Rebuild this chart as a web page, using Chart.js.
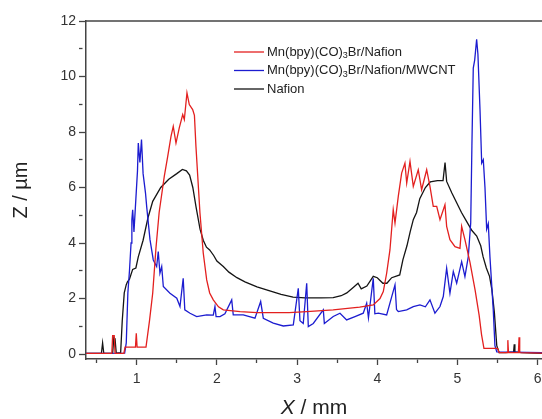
<!DOCTYPE html>
<html lang="en">
  <head>
    <title>Z profile</title>
    <meta charset="utf-8" />
    <script src="https://cdn.jsdelivr.net/npm/chart.js@4.4.0/dist/chart.umd.min.js"></script>
    <style>
      html, body { margin: 0; padding: 0; background: #fff; }
    </style>
  </head>
  <body>
    <canvas id="profile" width="542" height="419"></canvas>
    <script>
      // series names (the 3 after (CO) is drawn as subscript)
      var seriesNames = ["Mn(bpy)(CO)3Br/Nafion", "Mn(bpy)(CO)3Br/Nafion/MWCNT", "Nafion"];
      var seriesColors = ["#e3201f", "#1c1cd0", "#141414"];

      // Mn(bpy)(CO)3Br/Nafion
      var redX = [0.37, 0.69, 0.70, 0.72, 0.73, 0.84, 0.855, 0.985, 0.995, 1.005, 1.116,
        1.16, 1.20, 1.24, 1.28, 1.344, 1.387, 1.428, 1.456, 1.49, 1.531, 1.574, 1.594, 1.627, 1.656, 1.698, 1.72, 1.739,
        1.789, 1.83, 1.873, 1.91, 1.955, 2.02, 2.08, 2.29, 2.5, 2.9, 3.12, 3.45, 3.78, 3.95, 4.034, 4.075,
        4.117, 4.158, 4.199, 4.221, 4.262, 4.304, 4.345, 4.367, 4.408, 4.449, 4.511, 4.553, 4.616, 4.657, 4.698,
        4.741, 4.782, 4.844, 4.865, 4.906, 4.969, 5.031, 5.052, 5.093, 5.156, 5.22, 5.27, 5.30, 5.33, 5.50, 5.52,
        5.62, 5.628, 5.636, 5.76, 5.768, 5.776, 6.06];
      var redY = [0.02, 0.02, 0.66, 0.66, 0.02, 0.02, 0.25, 0.25, 0.75, 0.25, 0.25,
        1.2, 2.2, 3.8, 5.1, 6.4, 7.12, 7.84, 8.2, 7.6, 8.15, 8.63, 8.45, 9.41, 8.99, 8.81, 8.6, 7.48,
        5.08, 3.64, 2.67, 2.2, 1.95, 1.7, 1.59, 1.53, 1.49, 1.49, 1.53, 1.59, 1.69, 1.77, 2.0, 2.25,
        2.91, 3.75, 5.2, 4.72, 5.68, 6.52, 6.88, 6.16, 6.94, 6.04, 6.64, 5.92, 6.64, 6.04, 5.32,
        5.32, 4.84, 5.38, 4.6, 4.12, 3.87, 3.81, 4.6, 4.12, 3.3, 2.3, 1.4, 0.7, 0.2, 0.2, 0.05,
        0.05, 0.5, 0.05, 0.05, 0.6, 0.05, 0.03];

      // Mn(bpy)(CO)3Br/Nafion/MWCNT
      var blueX = [0.37, 0.85, 0.87, 0.89, 0.91, 0.93, 0.94, 0.95, 0.966, 0.99, 1.01, 1.02, 1.04, 1.06, 1.08,
        1.11, 1.125, 1.166, 1.207, 1.249, 1.269, 1.29, 1.312, 1.332, 1.415, 1.50, 1.54, 1.58, 1.60, 1.665,
        1.748, 1.873, 1.955, 1.976, 1.99, 2.039, 2.10, 2.185, 2.204, 2.329, 2.475, 2.546, 2.579, 2.703, 2.828, 2.953, 3.015,
        3.036, 3.077, 3.12, 3.14, 3.202, 3.327, 3.34, 3.451, 3.535, 3.618, 3.722, 3.825, 3.868, 3.89, 3.95,
        3.97, 4.012, 4.117, 4.221, 4.24, 4.262, 4.367, 4.449, 4.532, 4.60, 4.657, 4.719, 4.782, 4.823, 4.865,
        4.906, 4.948, 4.99, 5.052, 5.093, 5.135, 5.165, 5.18, 5.197, 5.215, 5.239, 5.255, 5.281, 5.302, 5.322,
        5.343, 5.364, 5.384, 5.405, 5.446, 5.467, 5.49, 6.06];
      var blueY = [0.02, 0.03, 0.4, 2.2, 3.0, 4.0, 4.84, 5.2, 4.4, 5.6, 6.6, 7.6, 6.9, 7.73, 6.5,
        5.8, 5.3, 4.12, 3.39, 3.15, 3.69, 2.91, 3.15, 2.43, 2.19, 2.01, 1.71, 2.73, 1.59, 1.47,
        1.35, 1.41, 1.4, 1.71, 1.35, 1.35, 1.45, 1.95, 1.41, 1.41, 1.29, 1.89, 1.29, 1.11, 1.01, 1.05, 2.37,
        1.2, 1.1, 2.55, 0.99, 1.1, 1.59, 1.1, 1.35, 1.47, 1.23, 1.35, 1.47, 1.83, 1.3, 2.73,
        1.45, 1.47, 1.41, 2.49, 1.6, 1.53, 1.59, 1.71, 1.77, 1.7, 1.95, 1.47, 1.71, 2.07, 3.09,
        2.19, 2.97, 2.55, 3.33, 2.79, 3.51, 4.72, 7.5, 10.3, 10.6, 11.34, 10.8, 8.8, 6.88, 7.0,
        6.0, 4.5, 4.7, 3.5, 1.6, 0.3, 0.08, 0.05];

      // Nafion
      var blackX = [0.37, 0.56, 0.575, 0.59, 0.70, 0.715, 0.73, 0.745, 0.80, 0.82, 0.845, 0.87, 0.885, 0.91,
        0.95, 0.99, 1.02, 1.08, 1.14, 1.20, 1.30, 1.40, 1.50, 1.57, 1.62, 1.66, 1.70, 1.74, 1.79, 1.83,
        1.87, 1.91, 1.96, 2.00, 2.08, 2.15, 2.25, 2.35, 2.50, 2.65, 2.80, 2.95, 3.10, 3.30, 3.45, 3.55,
        3.62, 3.70, 3.76, 3.80, 3.87, 3.95, 4.00, 4.07, 4.12, 4.18, 4.28, 4.32, 4.37, 4.41, 4.45, 4.49,
        4.53, 4.60, 4.66, 4.75, 4.82, 4.845, 4.865, 4.93, 4.99, 5.05, 5.11, 5.18, 5.24, 5.29, 5.32, 5.36,
        5.40, 5.43, 5.46, 5.49, 5.52, 5.60, 5.70, 5.708, 5.716, 5.80, 6.06];
      var blackY = [0.02, 0.02, 0.4, 0.02, 0.02, 0.6, 0.55, 0.03, 0.05, 1.2, 2.2, 2.5, 2.6, 2.7,
        3.05, 3.1, 3.5, 4.1, 4.9, 5.5, 6.0, 6.3, 6.5, 6.65, 6.6, 6.45, 6.0, 5.3, 4.5, 4.1,
        3.85, 3.75, 3.55, 3.35, 3.15, 2.95, 2.75, 2.6, 2.42, 2.28, 2.15, 2.05, 2.02, 2.02, 2.03, 2.1,
        2.2, 2.4, 2.55, 2.35, 2.45, 2.8, 2.75, 2.55, 2.55, 2.75, 2.85, 3.4, 3.9, 4.4, 4.85, 5.1,
        5.6, 6.0, 6.2, 6.25, 6.25, 6.9, 6.22, 5.8, 5.45, 5.1, 4.8, 4.45, 4.25, 3.9, 3.5, 3.1,
        2.8, 2.3, 1.5, 0.3, 0.05, 0.05, 0.08, 0.35, 0.08, 0.05, 0.02];

      var xs = [redX, blueX, blackX];
      var ys = [redY, blueY, blackY];

      var font = "'Liberation Sans', Arial, sans-serif";

      // tick marks at half steps on x and odd values on y are drawn short
      function shortTick(isMajor) {
        return isMajor ? [] : [3.5, 40];
      }

      // legend inside the plot, with subscript 3
      var innerLegend = {
        id: "innerLegend",
        afterDraw: function (chart) {
          var ctx = chart.ctx;
          ctx.save();
          for (var i = 0; i < seriesNames.length; i++) {
            var y = 52 + i * 18.5;
            ctx.strokeStyle = seriesColors[i];
            ctx.lineWidth = 1.3;
            ctx.beginPath();
            ctx.moveTo(234, y);
            ctx.lineTo(264, y);
            ctx.stroke();

            ctx.fillStyle = "#222";
            ctx.textBaseline = "middle";
            ctx.font = "13px " + font;
            var x = 267;
            var name = seriesNames[i];
            var k = name.indexOf("(CO)3");
            if (k >= 0) {
              var a = name.slice(0, k + 4);
              var b = name.slice(k + 5);
              ctx.fillText(a, x, y);
              var w = ctx.measureText(a).width;
              ctx.font = "9px " + font;
              ctx.fillText("3", x + w, y + 4);
              var w3 = ctx.measureText("3").width;
              ctx.font = "13px " + font;
              ctx.fillText(b, x + w + w3, y);
            } else {
              ctx.fillText(name, x, y);
            }
          }
          ctx.restore();
        },
      };

      // top frame line and x axis title with italic X
      var frameAndTitle = {
        id: "frameAndTitle",
        afterDraw: function (chart) {
          var ctx = chart.ctx;
          var area = chart.chartArea;
          ctx.save();
          ctx.strokeStyle = "#444";
          ctx.lineWidth = 1.5;
          ctx.beginPath();
          ctx.moveTo(area.left, area.top);
          ctx.lineTo(area.right, area.top);
          ctx.stroke();

          ctx.fillStyle = "#222";
          ctx.textBaseline = "middle";
          ctx.font = "italic 21px " + font;
          var t1 = "X";
          var w1 = ctx.measureText(t1).width;
          ctx.font = "21px " + font;
          var t2 = " / mm";
          var w2 = ctx.measureText(t2).width;
          var x0 = (area.left + area.right) / 2 - (w1 + w2) / 2;
          ctx.font = "italic 21px " + font;
          ctx.fillText(t1, x0, 408);
          ctx.font = "21px " + font;
          ctx.fillText(t2, x0 + w1, 408);
          ctx.restore();
        },
      };

      var datasets = [];
      for (var i = 0; i < seriesNames.length; i++) {
        datasets.push({
          label: seriesNames[i],
          data: xs[i].map(function (x, j) { return { x: x, y: this[j] }; }, ys[i]),
          borderColor: seriesColors[i],
          borderWidth: 1.3,
          pointRadius: 0,
          tension: 0,
          fill: false,
        });
      }

      new Chart(document.getElementById("profile"), {
        type: "line",
        data: { datasets: datasets },
        plugins: [innerLegend, frameAndTitle],
        options: {
          responsive: false,
          animation: false,
          layout: { padding: { top: 21, right: 0, bottom: 0, left: 0 } },
          plugins: { legend: { display: false }, tooltip: { enabled: false } },
          scales: {
            x: {
              type: "linear",
              min: 0.368,
              max: 6.054,
              afterFit: function (scale) {
                scale.height = 60;
                scale.paddingLeft = 0;
                scale.paddingRight = 0;
              },
              border: { color: "#444", width: 1.5 },
              grid: {
                drawOnChartArea: false,
                tickLength: 6,
                tickColor: "#444",
                tickWidth: 1.3,
                tickBorderDash: function (c) { return shortTick(Number.isInteger(c.tick.value)); },
              },
              ticks: {
                stepSize: 0.5,
                includeBounds: false,
                maxRotation: 0,
                autoSkip: false,
                padding: 6,
                color: "#333",
                font: { family: font, size: 14 },
                callback: function (v) { return Number.isInteger(v) ? v : ""; },
              },
            },
            y: {
              min: -0.18,
              max: 12,
              afterFit: function (scale) { scale.width = 86; },
              border: { color: "#444", width: 1.5 },
              grid: {
                drawOnChartArea: false,
                tickLength: 7,
                tickColor: "#444",
                tickWidth: 1.3,
                tickBorderDash: function (c) { return shortTick(c.tick.value % 2 === 0); },
              },
              ticks: {
                stepSize: 1,
                includeBounds: false,
                autoSkip: false,
                padding: 3,
                color: "#333",
                font: { family: font, size: 14 },
                callback: function (v) { return v % 2 === 0 ? v : ""; },
              },
              title: {
                display: true,
                text: "Z / µm",
                color: "#222",
                padding: { top: 9, bottom: 0 },
                font: { family: font, size: 20 },
              },
            },
          },
        },
      });
    </script>
  </body>
</html>
